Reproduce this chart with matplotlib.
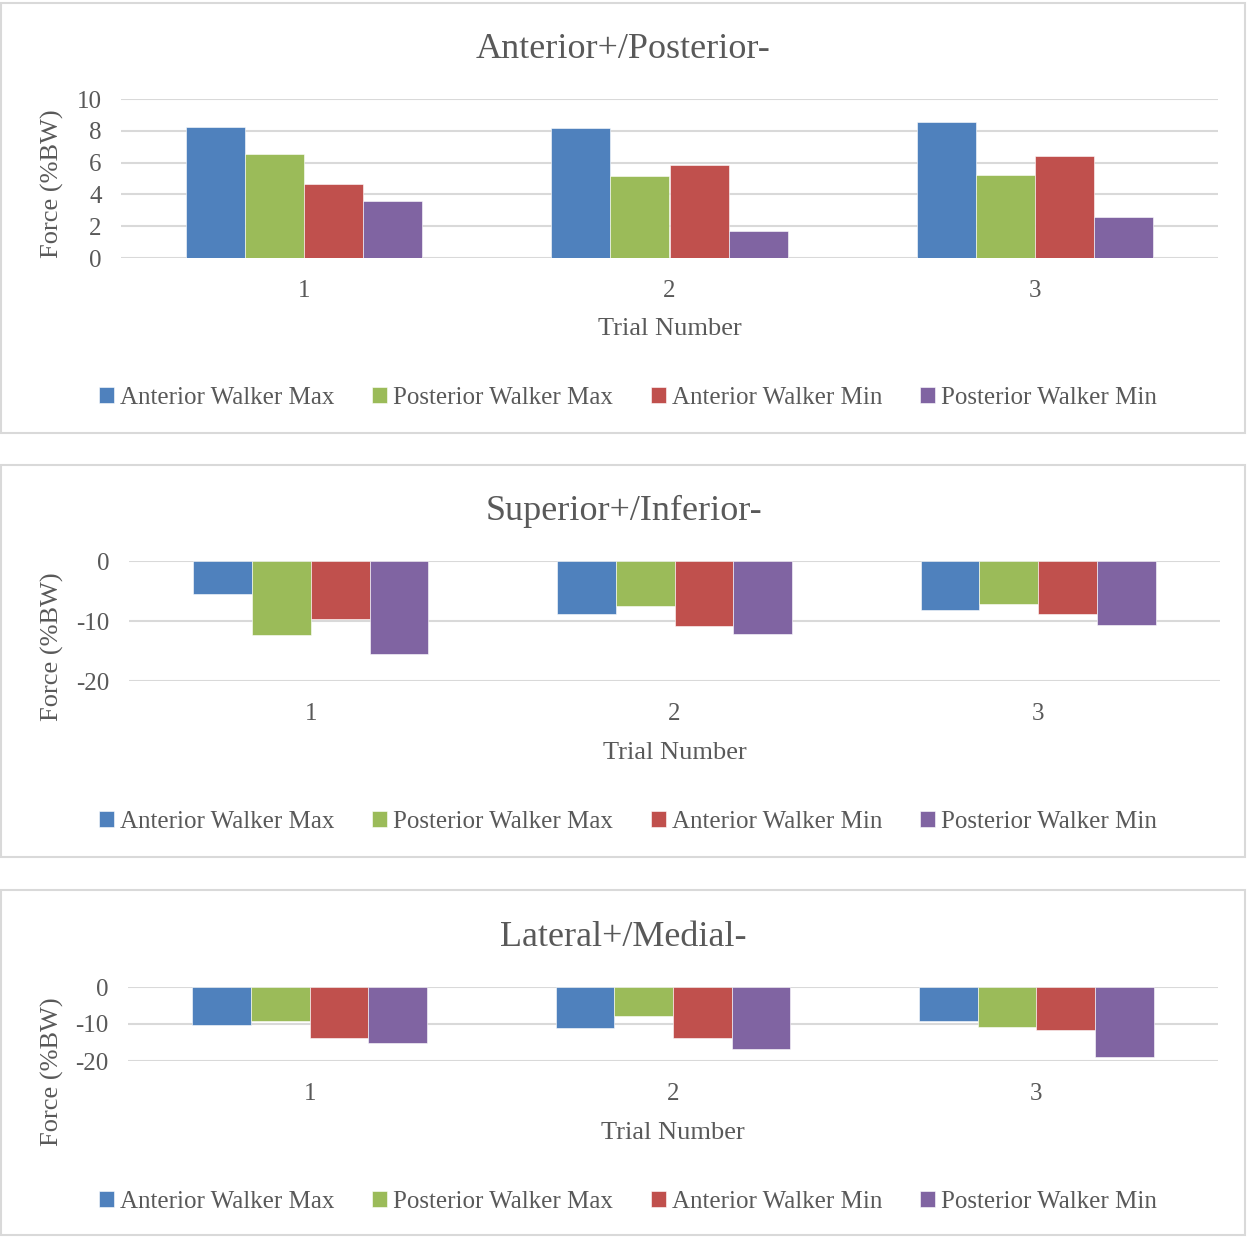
import numpy as np
import matplotlib.pyplot as plt
from matplotlib.patches import Rectangle

# data
trials = ["1", "2", "3"]
series = ["Anterior Walker Max", "Posterior Walker Max", "Anterior Walker Min", "Posterior Walker Min"]
colors = ["#4F81BD", "#9BBB59", "#C0504D", "#8064A2"]

ap_values = [
    [8.26, 8.17, 8.57],
    [6.52, 5.16, 5.22],
    [4.67, 5.85, 6.44],
    [3.60, 1.69, 2.55],
]
si_values = [
    [-5.57, -8.87, -8.20],
    [-12.4, -7.47, -7.20],
    [-9.70, -10.8, -8.80],
    [-15.45, -12.24, -10.6],
]
lm_values = [
    [-10.3, -10.96, -9.2],
    [-9.1, -7.86, -10.7],
    [-13.9, -13.7, -11.7],
    [-15.1, -16.7, -18.9],
]

titles = ["Anterior+/Posterior-", "Superior+/Inferior-", "Lateral+/Medial-"]
ylims = [(0, 10), (-20, 0), (-20, 0)]
yticks = [[0, 2, 4, 6, 8, 10], [-20, -10, 0], [-20, -10, 0]]

W, H = 1247, 1237
TXT = "#595959"
GRID = "#D9D9D9"
plt.rcParams['font.family'] = ['Liberation Serif', 'DejaVu Serif']
plt.rcParams['axes.unicode_minus'] = False

fig = plt.figure(figsize=(W / 100, H / 100), dpi=100)

# pixel layout: (axes left, right, top, bottom), box (top, bottom), title y, xlabel y, legend y, ylabel y
layout = [
    dict(ax=(121, 1218, 99, 258), box=(3, 433), title=49, xlab=329, leg=398, ylab=184),
    dict(ax=(129, 1220, 561, 681), box=(465, 857), title=511, xlab=753, leg=822, ylab=647),
    dict(ax=(128, 1218, 987, 1061), box=(890, 1235), title=937, xlab=1133, leg=1202, ylab=1072),
]

data = [ap_values, si_values, lm_values]
bar_w = 0.1614
x = np.arange(len(trials))

for k in range(3):
    L = layout[k]
    l, r, t, b = L["ax"]
    box_t, box_b = L["box"]
    fig.add_artist(Rectangle((1 / W, 1 - box_b / H), 1244 / W, (box_b - box_t) / H,
                             transform=fig.transFigure, fill=False, edgecolor=GRID, lw=1.5))

    ax = fig.add_axes([l / W, 1 - b / H, (r - l) / W, (b - t) / H])
    handles = []
    for j, vals in enumerate(data[k]):
        h = ax.bar(x + (j - 1.5) * bar_w, vals, width=bar_w, color=colors[j],
                   edgecolor='white', linewidth=0.4, zorder=3, label=series[j])
        handles.append(h)

    ax.set_xlim(-0.5, 2.5)
    ax.set_ylim(*ylims[k])
    ax.set_yticks(yticks[k])
    ax.set_xticks(x)
    ax.set_xticklabels(trials)
    ax.yaxis.grid(True, color=GRID, lw=1.5, zorder=0)
    ax.set_axisbelow(True)
    for s in ax.spines.values():
        s.set_visible(False)
    ax.tick_params(axis='both', length=0, labelsize=18, labelcolor=TXT)
    ax.tick_params(axis='x', pad=15.5)
    ax.tick_params(axis='y', pad=14)

    fig.text(0.5, 1 - L["title"] / H, titles[k], ha='center', va='center', fontsize=26, color=TXT)
    fig.text((l + r) / 2 / W, 1 - L["xlab"] / H, "Trial Number", ha='center', va='center',
             fontsize=19, color=TXT)
    fig.text(52 / W, 1 - L["ylab"] / H, "Force (%BW)", ha='center', va='center', rotation=90,
             fontsize=19, color=TXT)

    fig.legend(handles=handles, loc='center', bbox_to_anchor=(628 / W, 1 - L["leg"] / H),
               ncol=4, frameon=False, fontsize=18, labelcolor=TXT,
               handlelength=0.6, handleheight=0.6, handletextpad=0.25, columnspacing=1.5)

fig.savefig("out.png", dpi=100)
